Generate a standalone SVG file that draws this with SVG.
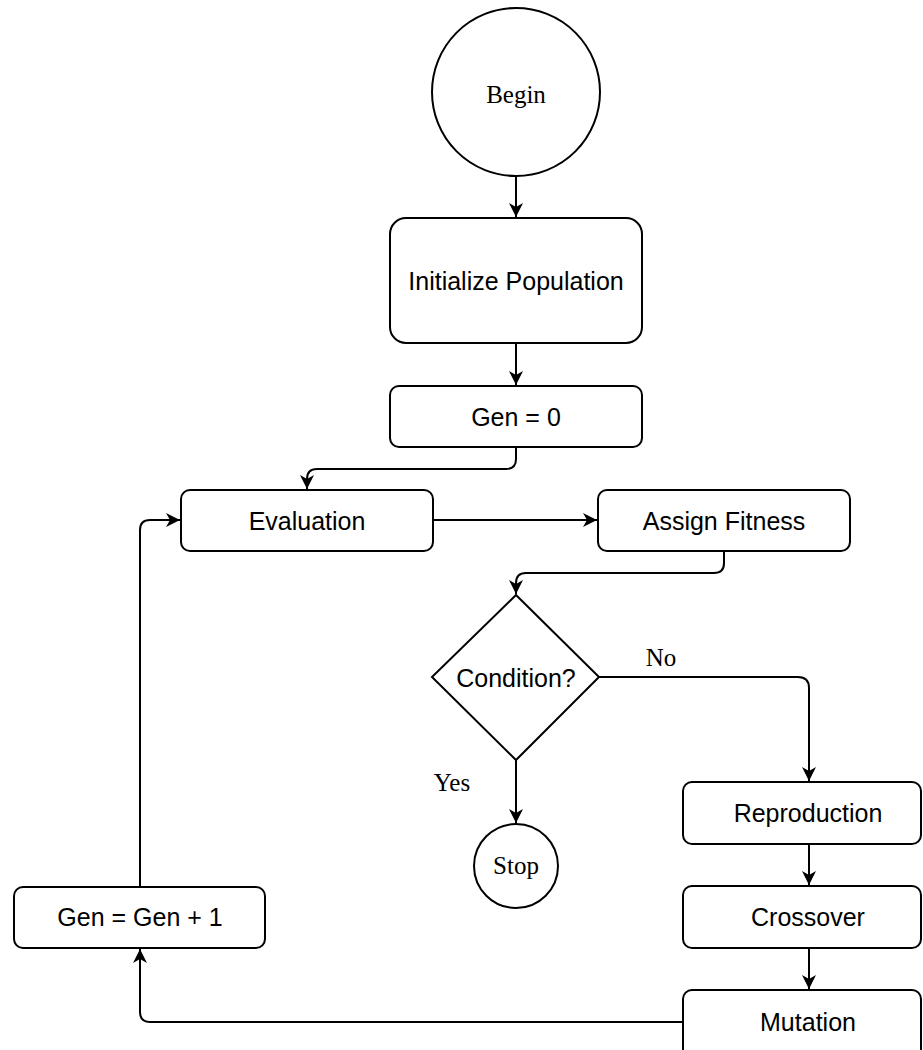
<svg xmlns="http://www.w3.org/2000/svg" width="923" height="1050" viewBox="0 0 923 1050">
<style>
.box{fill:#fff;stroke:#000;stroke-width:2}
.lbl{font-family:"Liberation Sans",Arial,sans-serif;font-size:25px;fill:#000;text-anchor:middle}
.ser{font-family:"Liberation Serif","Times New Roman",serif;font-size:25px;fill:#000;text-anchor:middle}
.edge{fill:none;stroke:#000;stroke-width:2}
</style>
<defs>
<marker id="arr" markerUnits="userSpaceOnUse" markerWidth="16" markerHeight="14" refX="14" refY="7" orient="auto">
<path d="M0,0 L14,7 L0,14 L4,7 Z" fill="#000"/>
</marker>
</defs>
<rect width="923" height="1050" fill="#fff"/>
<g id="connectors">
<path class="edge" d="M516,176 L516,217" marker-end="url(#arr)"/>
<path class="edge" d="M516,343 L516,385" marker-end="url(#arr)"/>
<path class="edge" d="M516,447 L516,459 Q516,469 506,469 L317,469 Q307,469 307,479 L307,489" marker-end="url(#arr)"/>
<path class="edge" d="M433,520 L597,520" marker-end="url(#arr)"/>
<path class="edge" d="M724,552 L724,563 Q724,573 714,573 L526,573 Q516,573 516,583 L516,594" marker-end="url(#arr)"/>
<path class="edge" d="M599,677 L798,677 Q809,677 809,688 L809,781" marker-end="url(#arr)"/>
<path class="edge" d="M516,760 L516,823" marker-end="url(#arr)"/>
<path class="edge" d="M809,844 L809,885" marker-end="url(#arr)"/>
<path class="edge" d="M809,948 L809,989" marker-end="url(#arr)"/>
<path class="edge" d="M683,1022 L150,1022 Q140,1022 140,1012 L140,949" marker-end="url(#arr)"/>
<path class="edge" d="M140,887 L140,530 Q140,520 150,520 L180,520" marker-end="url(#arr)"/>
</g>
<g id="begin">
<circle class="box" cx="516" cy="92" r="84"/>
<text class="ser" x="516" y="103">Begin</text>
</g>
<g id="init">
<rect class="box" x="390" y="218" width="252" height="125" rx="16"/>
<text class="lbl" x="516" y="290">Initialize Population</text>
</g>
<g id="gen0">
<rect class="box" x="390" y="386" width="252" height="61" rx="9"/>
<text class="lbl" x="516" y="426">Gen = 0</text>
</g>
<g id="evaluation">
<rect class="box" x="181" y="490" width="252" height="61" rx="9"/>
<text class="lbl" x="307" y="530">Evaluation</text>
</g>
<g id="fitness">
<rect class="box" x="598" y="490" width="252" height="61" rx="9"/>
<text class="lbl" x="724" y="530">Assign Fitness</text>
</g>
<g id="condition">
<polygon class="box" points="516,595 599,677 516,760 432,677"/>
<text class="lbl" x="516" y="687">Condition?</text>
</g>
<g id="stop">
<circle class="box" cx="516" cy="866" r="42"/>
<text class="ser" x="516" y="874">Stop</text>
</g>
<g id="labels">
<text class="ser" x="661" y="666">No</text>
<text class="ser" x="452" y="791">Yes</text>
</g>
<g id="reproduction">
<rect class="box" x="683" y="782" width="238" height="62" rx="9"/>
<text class="lbl" x="808" y="822">Reproduction</text>
</g>
<g id="crossover">
<rect class="box" x="683" y="886" width="238" height="62" rx="9"/>
<text class="lbl" x="808" y="926">Crossover</text>
</g>
<g id="mutation">
<rect class="box" x="683" y="990" width="238" height="70" rx="9"/>
<text class="lbl" x="808" y="1031">Mutation</text>
</g>
<g id="geninc">
<rect class="box" x="14" y="887" width="251" height="61" rx="9"/>
<text class="lbl" x="140" y="926">Gen = Gen + 1</text>
</g>
</svg>
